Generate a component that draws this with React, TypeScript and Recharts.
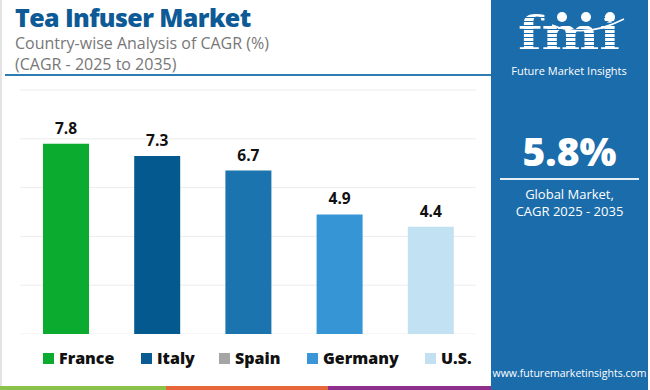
import React from "react";
import { BarChart, Bar, XAxis, YAxis, CartesianGrid, Cell, LabelList } from "recharts";

const countries = ["France", "Italy", "Spain", "Germany", "U.S."];
const cagr = [7.8, 7.3, 6.7, 4.9, 4.4];
const barColors = ["#0aab2e", "#04598f", "#1b74ad", "#3595d5", "#c2e1f2"];
const legendColors = ["#0aab2f", "#0a5a94", "#a5a5a5", "#3a96d6", "#c3e0f2"];
const yTicks = [0, 2, 4, 6, 8, 10];

const data = countries.map((name, i) => ({ name, value: cagr[i] }));

const FONT = "'Open Sans', 'Noto Sans', sans-serif";
const PANEL = "#1b6cab";

const Logo = () => (
    <svg width={140} height={80} style={{ position: "absolute", left: 500, top: 2 }}>
        <defs>
            <pattern id="stripes" width="4" height="4" patternUnits="userSpaceOnUse">
                <rect width="4" height="3" fill="#fff" />
            </pattern>
        </defs>
        <text x={18} y={48} fontFamily="'DejaVu Serif', serif" fontWeight="bold"
            fontSize={46} textLength={102} lengthAdjust="spacingAndGlyphs" fill="url(#stripes)">fmi</text>
        <circle cx={62} cy={15} r={5} fill="#fff" />
        <circle cx={86} cy={15} r={5} fill="#fff" />
        <circle cx={110} cy={15} r={5} fill="#fff" />
        <path d="M52 23 Q 85 37 124 17" stroke="#fff" strokeWidth={1.5} fill="none" />
        <text x={69} y={73} textAnchor="middle" fontFamily={FONT} fontSize={11} fill="#fff">
            Future Market Insights
        </text>
    </svg>
);

export default function App() {
    return (
        <div style={{ position: "absolute", left: 0, top: 0, width: 650, height: 390, background: "#fff", overflow: "hidden", fontFamily: FONT }}>
            <div style={{ position: "absolute", left: 0, top: 0, width: 2, height: 390, background: "#e3e3e3" }} />

            {/* title block */}
            <div style={{ position: "absolute", left: 15, top: 3, fontSize: 25, fontWeight: 800, color: "#0d5a96", lineHeight: "28px", letterSpacing: -0.6 }}>
                Tea Infuser Market
            </div>
            <div style={{ position: "absolute", left: 15, top: 33, fontSize: 16, color: "#777", lineHeight: "20px" }}>
                Country-wise Analysis of CAGR (%)
            </div>
            <div style={{ position: "absolute", left: 15, top: 54, fontSize: 16, color: "#777", lineHeight: "20px" }}>
                (CAGR - 2025 to 2035)
            </div>
            <div style={{ position: "absolute", left: 5, top: 74, width: 486, height: 2, background: "#2f7bb3" }} />

            {/* chart */}
            <div style={{ position: "absolute", left: 20, top: 80 }}>
                <BarChart width={456} height={254} data={data} margin={{ top: 10, right: 0, bottom: 0, left: 0 }}>
                    <CartesianGrid vertical={false} stroke="#ececec" />
                    <XAxis dataKey="name" hide />
                    <YAxis hide domain={[0, 10]} ticks={yTicks} />
                    <Bar dataKey="value" barSize={46} isAnimationActive={false}>
                        {data.map((d, i) => (
                            <Cell key={d.name} fill={barColors[i]} />
                        ))}
                        <LabelList dataKey="value" position="top" offset={10} fill="#111" fontSize={15.5} fontWeight="bold" fontFamily={FONT} />
                    </Bar>
                </BarChart>
            </div>

            {/* legend */}
            {countries.map((c, i) => {
                const xs = [43, 141, 219, 307, 425];
                return (
                    <div key={c} style={{ position: "absolute", left: xs[i], top: 347, display: "flex", alignItems: "center", gap: 5 }}>
                        <div style={{ width: 11, height: 11, background: legendColors[i] }} />
                        <span style={{ fontSize: 16, fontWeight: 800, color: "#111" }}>{c}</span>
                    </div>
                );
            })}

            {/* bottom stripe */}
            <div style={{ position: "absolute", left: 0, top: 386, width: 166, height: 4, background: "#8bc34a" }} />
            <div style={{ position: "absolute", left: 166, top: 386, width: 162, height: 4, background: "#e8673a" }} />
            <div style={{ position: "absolute", left: 328, top: 386, width: 163, height: 4, background: "#8e2f8c" }} />

            {/* right panel */}
            <div style={{ position: "absolute", left: 491, top: 0, width: 157, height: 390, background: PANEL }} />
            <Logo />
            <div style={{ position: "absolute", left: 491, top: 124, width: 157, textAlign: "center", color: "#fff", fontSize: 39, fontWeight: 800 }}>
                5.8%
            </div>
            <div style={{ position: "absolute", left: 500, top: 178, width: 139, height: 2, background: "#e6eef5" }} />
            <div style={{ position: "absolute", left: 491, top: 186, width: 157, textAlign: "center", color: "#fff", fontSize: 13, lineHeight: "17px" }}>
                Global Market,
            </div>
            <div style={{ position: "absolute", left: 491, top: 203, width: 157, textAlign: "center", color: "#fff", fontSize: 13, lineHeight: "17px" }}>
                CAGR 2025 - 2035
            </div>
            <div style={{ position: "absolute", left: 491, top: 366, width: 157, textAlign: "center", color: "#fff", fontSize: 10.5 }}>
                www.futuremarketinsights.com
            </div>
        </div>
    );
}
